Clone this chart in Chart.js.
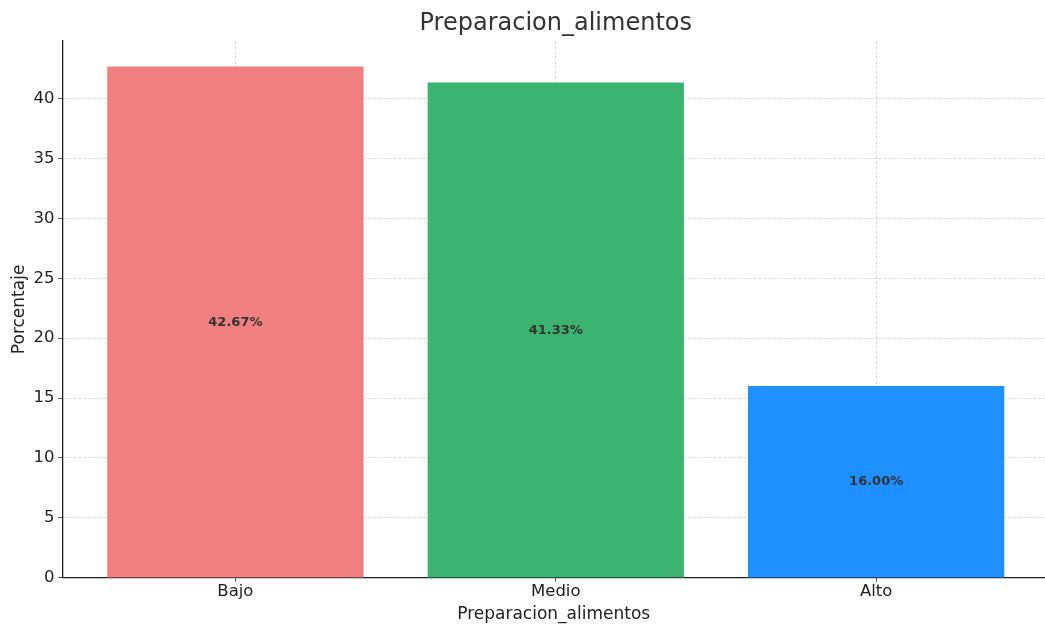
<!DOCTYPE html>
<html>
<head>
<meta charset="utf-8">
<script src="https://cdn.jsdelivr.net/npm/chart.js@4/dist/chart.umd.min.js"></script>
<style>
  html, body { margin: 0; padding: 0; background: #fff; }
  #wrap { width: 1045px; height: 627px; position: relative; }
</style>
</head>
<body>
<div id="wrap"><canvas id="chart"></canvas></div>
<script>
// categories and percentages
const niveles = ['Bajo', 'Medio', 'Alto'];
const porcentajes = [42.67, 41.33, 16.00];
const colores = ['#F08080', '#3CB371', '#1E90FF'];
const yTicks = [0, 5, 10, 15, 20, 25, 30, 35, 40];

const FONT = "'DejaVu Sans', sans-serif";
const gridColor = 'rgba(180,180,180,0.6)';

// percentage text in the middle of each bar, plus the title centred over the axes
const barLabels = {
  id: 'barLabels',
  afterDraw(chart) {
    const ctx = chart.ctx;
    const meta = chart.getDatasetMeta(0);
    ctx.save();
    ctx.font = "bold 13px " + FONT;
    ctx.fillStyle = '#333';
    ctx.textAlign = 'center';
    ctx.textBaseline = 'middle';
    meta.data.forEach((bar, i) => {
      const v = porcentajes[i];
      const y = chart.scales.y.getPixelForValue(v / 2);
      ctx.fillText(v.toFixed(2) + '%', bar.x, y);
    });
    ctx.font = "24px " + FONT;
    ctx.fillText('Preparacion_alimentos', chart.scales.x.getPixelForValue(1), 24);
    ctx.restore();
  }
};

new Chart(document.getElementById('chart'), {
  type: 'bar',
  data: {
    datasets: [{
      data: porcentajes.map((v, i) => ({ x: i, y: v })),
      backgroundColor: colores,
      borderWidth: 0,
      barPercentage: 0.8,
      categoryPercentage: 1.0
    }]
  },
  options: {
    responsive: true,
    maintainAspectRatio: false,
    animation: false,
    layout: { padding: { top: 41, right: 0, bottom: 0, left: 5 } },
    plugins: {
      legend: { display: false },
      tooltip: { enabled: false },
      title: { display: false }
    },
    scales: {
      x: {
        type: 'linear',
        min: -0.54,
        max: 2.527,
        offset: false,
        z: 1,
        afterBuildTicks: axis => { axis.ticks = niveles.map((_, i) => ({ value: i })); },
        ticks: {
          callback: v => niveles[v],
          color: '#222',
          font: { family: FONT, size: 16.5 },
          padding: 0,
          maxRotation: 0
        },
        grid: { offset: false, color: gridColor, tickColor: '#222', tickLength: 4, lineWidth: 0.8 },
        border: { display: true, color: '#222', width: 1.3, dash: [3, 2] },
        title: {
          display: true,
          text: 'Preparacion_alimentos',
          color: '#222',
          font: { family: FONT, size: 17 },
          padding: { top: 3, bottom: 2 }
        }
      },
      y: {
        min: 0,
        max: 44.8,
        z: 1,
        afterBuildTicks: axis => { axis.ticks = yTicks.map(v => ({ value: v })); },
        ticks: {
          color: '#222',
          font: { family: FONT, size: 16.5 },
          padding: 4
        },
        grid: { color: gridColor, tickColor: '#222', tickLength: 4, lineWidth: 0.8 },
        border: { display: true, color: '#222', width: 1.3, dash: [3, 2] },
        title: {
          display: true,
          text: 'Porcentaje',
          color: '#222',
          font: { family: FONT, size: 17 },
          padding: { top: 4, bottom: 0 }
        }
      }
    }
  },
  plugins: [barLabels]
});
</script>
</body>
</html>
